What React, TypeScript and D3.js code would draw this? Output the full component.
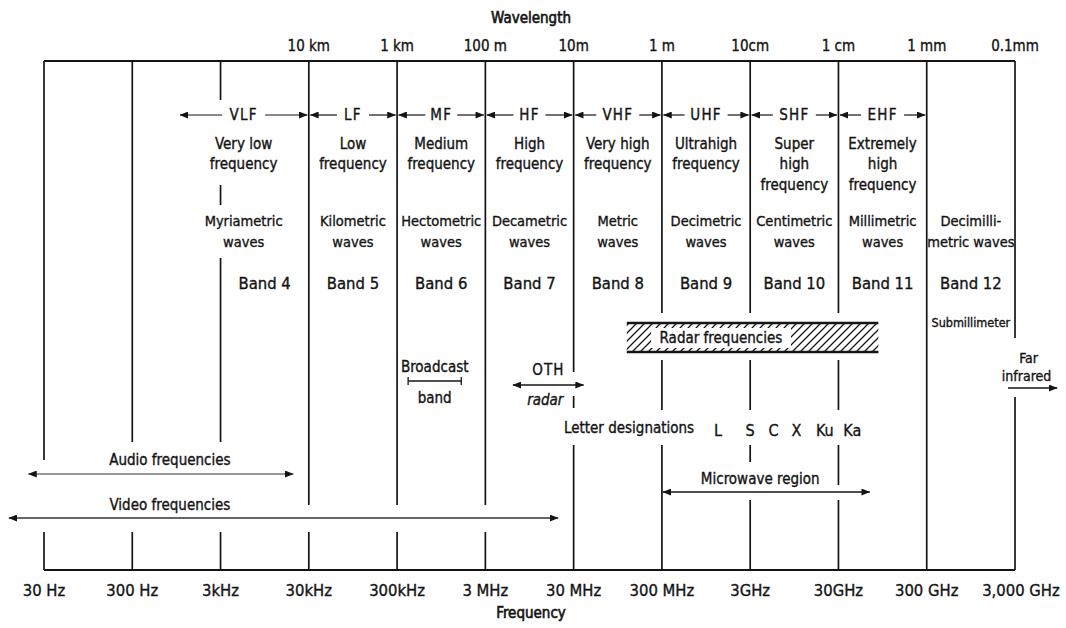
import React from 'react';
import * as d3 from 'd3';

const W = 1066;
const H = 628;
const FONT = "'DejaVu Sans Condensed', 'Liberation Sans Narrow', 'DejaVu Sans', sans-serif";

// Frequency axis (Hz)
const freqTicks = [30, 300, 3e3, 3e4, 3e5, 3e6, 3e7, 3e8, 3e9, 3e10, 3e11, 3e12];
const freqLabels = ['30 Hz', '300 Hz', '3kHz', '30kHz', '300kHz', '3 MHz', '30 MHz', '300 MHz', '3GHz', '30GHz', '300 GHz', '3,000 GHz'];
// Wavelength labels (at the same boundaries, from 30 kHz up)
const waveTicks = [3e4, 3e5, 3e6, 3e7, 3e8, 3e9, 3e10, 3e11, 3e12];
const waveLabels = ['10 km', '1 km', '100 m', '10m', '1 m', '10cm', '1 cm', '1 mm', '0.1mm'];

// Band designations
const bandAbbr = ['VLF', 'LF', 'MF', 'HF', 'VHF', 'UHF', 'SHF', 'EHF'];
const bandArrowLo = [1e3, 3e4, 3e5, 3e6, 3e7, 3e8, 3e9, 3e10];
const bandHi = [3e4, 3e5, 3e6, 3e7, 3e8, 3e9, 3e10, 3e11, 3e12];
const bandLo = [3e3, 3e4, 3e5, 3e6, 3e7, 3e8, 3e9, 3e10, 3e11];
const labelLo = [1e3, 3e4, 3e5, 3e6, 3e7, 3e8, 3e9, 3e10, 3e11];
const bandNames = [
  ['Very low', 'frequency'], ['Low', 'frequency'], ['Medium', 'frequency'], ['High', 'frequency'],
  ['Very high', 'frequency'], ['Ultrahigh', 'frequency'], ['Super', 'high', 'frequency'], ['Extremely', 'high', 'frequency'],
];
const waveNames = [
  ['Myriametric', 'waves'], ['Kilometric', 'waves'], ['Hectometric', 'waves'], ['Decametric', 'waves'],
  ['Metric', 'waves'], ['Decimetric', 'waves'], ['Centimetric', 'waves'], ['Millimetric', 'waves'], ['Decimilli-', 'metric waves'],
];
const bandNumbers = ['Band 4', 'Band 5', 'Band 6', 'Band 7', 'Band 8', 'Band 9', 'Band 10', 'Band 11', 'Band 12'];

// Ranges (Hz)
const audioRange = [20, 2e4];
const audioLabelAt = 800;
const videoRange = [12, 2e7];
const videoLabelAt = 800;
const broadcastRange = [4e5, 1.6e6];
const othRange = [6e6, 4e7];
const radarRange = [1.2e8, 8.5e10];
const radarLabelAt = 1.4e9;
const microwaveRange = [3e8, 6.8e10];
const microwaveLabelAt = 3.9e9;
const farIRRange = [2.5e12, 9e12];
const letterNames = ['L', 'S', 'C', 'X', 'Ku', 'Ka'];
const letterFreqs = [1.3e9, 3e9, 5.5e9, 1e10, 2.1e10, 4.3e10];

// vertical extents (layout) of each boundary line, in pixel y
const lineSegments = [
  [[61, 460], [532, 570]],
  [[61, 442], [532, 570]],
  [[61, 100], [185, 205], [258, 442], [532, 570]],
  [[61, 505], [532, 570]],
  [[61, 505], [532, 570]],
  [[61, 505], [532, 570]],
  [[61, 372], [396, 408], [445, 570]],
  [[61, 313], [360, 410], [445, 570]],
  [[61, 313], [360, 410], [445, 462], [500, 570]],
  [[61, 313], [360, 410], [445, 485], [500, 570]],
  [[61, 570]],
  [[61, 338], [397, 570]],
];

const INK = '#141414';

export default function App() {
  const x = d3.scaleLog().domain([30, 3e12]).range([44, 1015]);
  const gm = (a: number, b: number) => Math.sqrt(a * b);
  const T = (props: any) => (
    <text fontFamily={FONT} fontSize={15} fill={INK} stroke={INK} strokeWidth={0.35}
      textAnchor="middle" dominantBaseline="central" {...props} />
  );

  const yTop = 61;
  const yBot = 570;
  const yBandRow = 115;
  const nameY = [144, 164, 185];
  const wavesY = [221, 242];
  const bandNumY = 283;

  return (
    <div style={{ position: 'absolute', left: 0, top: 0, width: W, height: H, background: '#fff' }}>
      <svg width={W} height={H} viewBox={`0 0 ${W} ${H}`}>
        <defs>
          <marker id="ah" viewBox="0 0 10 8" refX="9.5" refY="4" markerWidth="9" markerHeight="7"
            markerUnits="userSpaceOnUse" orient="auto-start-reverse">
            <path d="M0,0 L10,4 L0,8 z" fill={INK} />
          </marker>
          <pattern id="hatch" patternUnits="userSpaceOnUse" width="8" height="8">
            <path d="M-2,2 L2,-2 M0,8 L8,0 M6,10 L10,6" stroke={INK} strokeWidth={1.3} />
          </pattern>
        </defs>
        <rect width={W} height={H} fill="#fff" />

        {/* Titles */}
        <T x={531} y={18} fontSize={15} strokeWidth={0.6}>Wavelength</T>
        <T x={531} y={613} fontSize={15} strokeWidth={0.6}>Frequency</T>

        {/* frame lines */}
        <line x1={x(30)} x2={x(3e12)} y1={yTop} y2={yTop} stroke={INK} strokeWidth={1.8} />
        <line x1={x(30)} x2={x(3e12)} y1={yBot} y2={yBot} stroke={INK} strokeWidth={1.8} />

        {freqTicks.map((f, i) =>
          lineSegments[i].map((s, j) => (
            <line key={`v${i}-${j}`} x1={x(f)} x2={x(f)} y1={s[0]} y2={s[1]} stroke={INK} strokeWidth={1.7} />
          ))
        )}

        {/* axis labels */}
        {freqTicks.map((f, i) => (
          <T key={`fl${i}`} x={x(f) + (i === freqTicks.length - 1 ? 6 : 0)} y={590} fontSize={16.5}>{freqLabels[i]}</T>
        ))}
        {waveTicks.map((f, i) => (
          <T key={`wl${i}`} x={x(f)} y={46}>{waveLabels[i]}</T>
        ))}

        {/* band designation arrows */}
        {bandAbbr.map((b, i) => {
          const lo = x(bandArrowLo[i]);
          const hi = x(bandHi[i]);
          const c = x(gm(bandArrowLo[i], bandHi[i]));
          const g = b.length * 5.5 + 5;
          return (
            <g key={`ba${i}`}>
              <line x1={c - g} x2={lo + 1.5} y1={yBandRow} y2={yBandRow} stroke={INK} strokeWidth={1.2} markerEnd="url(#ah)" />
              <line x1={c + g} x2={hi - 1.5} y1={yBandRow} y2={yBandRow} stroke={INK} strokeWidth={1.2} markerEnd="url(#ah)" />
              <T x={c} y={yBandRow} letterSpacing={1.2}>{b}</T>
            </g>
          );
        })}

        {/* band names */}
        {bandNames.map((lines, i) => {
          const c = x(gm(labelLo[i], bandHi[i]));
          return lines.map((l, j) => (
            <T key={`bn${i}-${j}`} x={c} y={nameY[j]}>{l}</T>
          ));
        })}
        {waveNames.map((lines, i) => {
          const c = x(gm(labelLo[i], bandHi[i]));
          return lines.map((l, j) => (
            <T key={`wn${i}-${j}`} x={c} y={wavesY[j]} fontSize={14.5}>{l}</T>
          ));
        })}
        {bandNumbers.map((b, i) => (
          <T key={`bnum${i}`} x={x(gm(bandLo[i], bandHi[i]))} y={bandNumY} fontSize={16.5}>{b}</T>
        ))}
        <T x={x(gm(3e11, 3e12))} y={322} fontSize={12.5}>Submillimeter</T>

        {/* Radar frequencies */}
        <rect x={x(radarRange[0])} width={x(radarRange[1]) - x(radarRange[0])} y={323} height={29} fill="url(#hatch)" />
        <line x1={x(radarRange[0])} x2={x(radarRange[1])} y1={323} y2={323} stroke={INK} strokeWidth={2.6} />
        <line x1={x(radarRange[0])} x2={x(radarRange[1])} y1={352} y2={352} stroke={INK} strokeWidth={2.6} />
        <rect x={x(radarLabelAt) - 70} width={140} y={328} height={20} fill="#fff" />
        <T x={x(radarLabelAt)} y={338}>Radar frequencies</T>

        {/* Broadcast band */}
        <T x={x(gm(broadcastRange[0], broadcastRange[1]))} y={367}>Broadcast</T>
        <line x1={x(broadcastRange[0])} x2={x(broadcastRange[1])} y1={381} y2={381} stroke={INK} strokeWidth={1.3} />
        <line x1={x(broadcastRange[0])} x2={x(broadcastRange[0])} y1={377} y2={385} stroke={INK} strokeWidth={1.3} />
        <line x1={x(broadcastRange[1])} x2={x(broadcastRange[1])} y1={377} y2={385} stroke={INK} strokeWidth={1.3} />
        <T x={x(gm(broadcastRange[0], broadcastRange[1]))} y={398}>band</T>

        {/* OTH radar */}
        <T x={x(gm(othRange[0], othRange[1]))} y={370} letterSpacing={1}>OTH</T>
        <line x1={x(othRange[0]) + 1} x2={x(othRange[1]) - 1} y1={385} y2={385} stroke={INK} strokeWidth={1.5}
          markerStart="url(#ah)" markerEnd="url(#ah)" />
        <T x={x(gm(othRange[0], othRange[1])) - 3} y={400} fontStyle="italic">radar</T>

        {/* Far infrared */}
        <T x={x(gm(farIRRange[0], farIRRange[1])) - 4} y={358} fontSize={14}>Far</T>
        <T x={x(gm(farIRRange[0], farIRRange[1])) - 6} y={376} fontSize={14}>infrared</T>
        <line x1={x(farIRRange[0])} x2={x(farIRRange[1])} y1={388} y2={388} stroke={INK} strokeWidth={1.5} markerEnd="url(#ah)" />

        {/* Letter designations */}
        <T x={x(letterFreqs[0]) - 24} y={428} textAnchor="end">Letter designations</T>
        {letterNames.map((l, i) => (
          <T key={`ln${i}`} x={x(letterFreqs[i])} y={430} fontSize={16}>{l}</T>
        ))}

        {/* Microwave region */}
        <T x={x(microwaveLabelAt)} y={479}>Microwave region</T>
        <line x1={x(microwaveRange[0]) + 1} x2={x(microwaveRange[1])} y1={492} y2={492} stroke={INK} strokeWidth={1.4}
          markerStart="url(#ah)" markerEnd="url(#ah)" />

        {/* Audio / video */}
        <T x={x(audioLabelAt)} y={460}>Audio frequencies</T>
        <line x1={x(audioRange[0])} x2={x(audioRange[1])} y1={474} y2={474} stroke="#333" strokeWidth={1.1}
          markerStart="url(#ah)" markerEnd="url(#ah)" />
        <T x={x(videoLabelAt)} y={505}>Video frequencies</T>
        <line x1={x(videoRange[0])} x2={x(videoRange[1])} y1={518} y2={518} stroke="#333" strokeWidth={1.4}
          markerStart="url(#ah)" markerEnd="url(#ah)" />
      </svg>
    </div>
  );
}
